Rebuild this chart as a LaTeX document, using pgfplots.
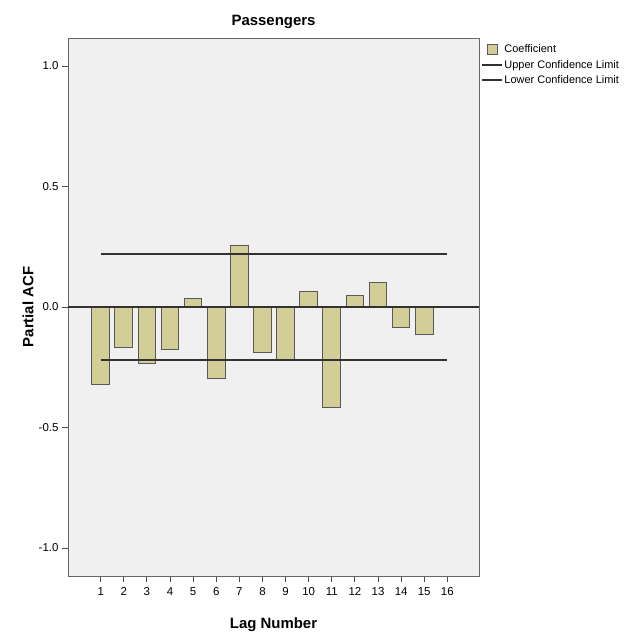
\documentclass[border=0pt]{standalone}
\usepackage{fontspec}
\setmainfont{Liberation Sans}
\usepackage{pgfplots}
\pgfplotsset{compat=1.18}
\definecolor{barfill}{RGB}{211,206,151}
\definecolor{plotbg}{RGB}{240,240,240}
\definecolor{linec}{RGB}{50,50,50}
\pgfplotsset{
  mybarlegend/.style={legend image code/.code={\draw[##1, /pgf/bar width=0pt, /pgf/bar shift=0pt] (5bp,-5bp) rectangle (15bp,5bp);}},
  mylinelegend/.style={legend image code/.code={\draw[##1] (0,0) -- (20bp,0);}},
}
\begin{document}
\begin{tikzpicture}
\useasboundingbox (-68bp,-59bp) rectangle (564bp,576bp);
\begin{axis}[
  at={(0,0)}, anchor=south west,
  scale only axis, width=411bp, height=538bp,
  xmin=-0.415, xmax=17.37, ymin=-1.116, ymax=1.116,
  axis background/.style={fill=plotbg},
  axis line style={black!60, line width=0.9pt},
  xtick={1,...,16}, ytick={-1,-0.5,0,0.5,1},
  xtick pos=bottom, ytick pos=left,
  yticklabel style={/pgf/number format/fixed, /pgf/number format/fixed zerofill, /pgf/number format/precision=1},
  /pgf/number format/assume math mode=true,
  tick align=outside, tick style={black!70, line width=0.9pt}, major tick length=6bp,
  ticklabel style={font=\fontsize{11.5}{12}\selectfont},
  xticklabel style={yshift=-2bp},
  every axis title/.style={at={(axis description cs:0.5,1.03)}, anchor=center, font=\bfseries\fontsize{15}{17}\selectfont},
  title={Passengers},
  xlabel={\textbf{Lag Number}}, ylabel={\textbf{Partial ACF}},
  xlabel style={font=\fontsize{15}{17}\selectfont, at={(axis description cs:0.5,-0.0911)}, anchor=center},
  ylabel style={font=\fontsize{15}{17}\selectfont, at={(axis description cs:-0.0973,0.5)}, anchor=center},
  legend style={at={(axis description cs:1,1)}, anchor=north west, xshift=2bp, yshift=-5bp,
    inner sep=0pt, draw=none, fill=none, font=\fontsize{11}{12}\selectfont,
    nodes={inner sep=1.5pt, anchor=west}, row sep=3bp},
  legend cell align=left,
]
\addplot[ybar, bar width=17.7bp, bar shift=0pt, fill=barfill, draw=black!65, line width=1pt, mybarlegend]
  coordinates {
  (1,-0.322) (2,-0.169) (3,-0.236) (4,-0.176) (5,0.036) (6,-0.296) (7,0.257) (8,-0.187)
  (9,-0.216) (10,0.065) (11,-0.415) (12,0.047) (13,0.100) (14,-0.083) (15,-0.116) (16,0.003)
  };
\addlegendentry{Coefficient}
\addplot[linec, line width=1.8pt, mylinelegend]
  coordinates {(1,0.221) (16,0.221)};
\addlegendentry{Upper Confidence Limit}
\addplot[linec, line width=1.8pt, mylinelegend]
  coordinates {(1,-0.221) (16,-0.221)};
\addlegendentry{Lower Confidence Limit}
\addplot[linec, line width=1.8pt, forget plot] coordinates {(-0.415,0) (17.37,0)};
\end{axis}
\end{tikzpicture}
\end{document}
